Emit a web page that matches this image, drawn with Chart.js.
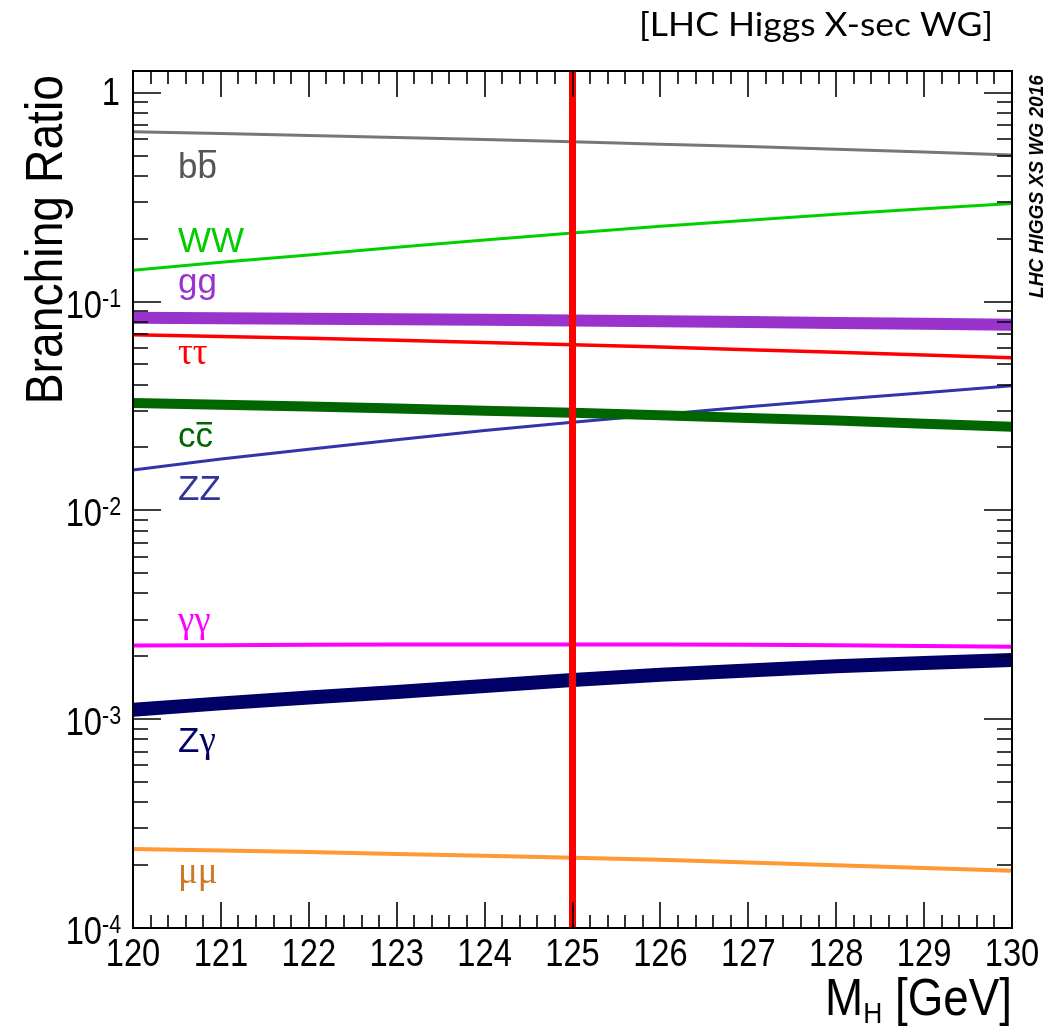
<!DOCTYPE html>
<html>
<head>
<meta charset="utf-8">
<script src="https://cdn.jsdelivr.net/npm/chart.js@4.4.0/dist/chart.umd.min.js"></script>
<style>
  html, body { margin: 0; padding: 0; background: #fff; }
  #br { display: block; }
</style>
</head>
<body>
<canvas id="br" width="1056" height="1026"></canvas>
<script>
// Higgs mass points (GeV)
const masses = [120, 121, 122, 123, 124, 125, 126, 127, 128, 129, 130];

// branching ratios
const bbValues    = [0.650, 0.637, 0.624, 0.610, 0.596, 0.582, 0.567, 0.552, 0.536, 0.520, 0.503];
const wwValues    = [0.141, 0.154, 0.167, 0.182, 0.197, 0.213, 0.229, 0.245, 0.262, 0.278, 0.295];
const ggValues    = [0.0836, 0.0832, 0.0828, 0.0823, 0.0817, 0.0811, 0.0804, 0.0797, 0.0790, 0.0782, 0.0774];
const tautauValues = [0.0693, 0.0680, 0.0667, 0.0653, 0.0637, 0.0621, 0.0605, 0.0588, 0.0571, 0.0554, 0.0538];
const ccValues    = [0.0327, 0.0320, 0.0314, 0.0307, 0.0300, 0.0293, 0.0285, 0.0277, 0.0269, 0.0260, 0.0251];
const zzValues    = [0.0156, 0.0176, 0.0196, 0.0218, 0.0241, 0.0264, 0.0288, 0.0313, 0.0339, 0.0366, 0.0395];
const gamgamValues = [0.00225, 0.00226, 0.00227, 0.00228, 0.00228, 0.00228, 0.00228, 0.00227, 0.00226, 0.00224, 0.00222];
const zgamValues  = [0.00111, 0.00119, 0.00127, 0.00135, 0.00144, 0.00154, 0.00163, 0.00171, 0.00179, 0.00186, 0.00192];
const mumuValues  = [0.000239, 0.000235, 0.000231, 0.000226, 0.000222, 0.000217, 0.000212, 0.000206, 0.000200, 0.000194, 0.000188];

const refMass = 125;
const xTickLabels = ['120', '121', '122', '123', '124', '125', '126', '127', '128', '129', '130'];
const yTickValues = [1, 0.1, 0.01, 0.001, 0.0001];
const yTickLabels = [['1', ''], ['10', '-1'], ['10', '-2'], ['10', '-3'], ['10', '-4']];

const channels = [
  { name: 'bb',     values: bbValues,     color: '#777777', width: 3 },
  { name: 'WW',     values: wwValues,     color: '#00d000', width: 3 },
  { name: 'gg',     values: ggValues,     color: '#9933cc', width: 12 },
  { name: 'tautau', values: tautauValues, color: '#ff0000', width: 3.5 },
  { name: 'cc',     values: ccValues,     color: '#006600', width: 10 },
  { name: 'ZZ',     values: zzValues,     color: '#3333aa', width: 3 },
  { name: 'gamgam', values: gamgamValues, color: '#ff00ff', width: 4 },
  { name: 'Zgam',   values: zgamValues,   color: '#000066', width: 14 },
  { name: 'mumu',   values: mumuValues,   color: '#ff9933', width: 4 }
];

const SANS = '"Liberation Sans", Arial, sans-serif';
const SERIF = '"Liberation Serif", "DejaVu Serif", serif';

// text helper: squash horizontally (ROOT fonts look narrow here)
function txt(ctx, s, x, y, font, color, align, squash) {
  ctx.save();
  ctx.translate(x, y);
  ctx.scale(squash || 1, 1);
  ctx.font = font;
  ctx.fillStyle = color;
  ctx.textAlign = align || 'left';
  ctx.textBaseline = 'alphabetic';
  ctx.fillText(s, 0, 0);
  ctx.restore();
}
function width(ctx, s, font, squash) {
  ctx.font = font;
  return ctx.measureText(s).width * (squash || 1);
}

const frame = {
  id: 'frame',
  beforeDraw(chart) {
    const ctx = chart.ctx;
    ctx.save();
    ctx.fillStyle = '#fff';
    ctx.fillRect(0, 0, chart.width, chart.height);
    ctx.restore();
  },
  afterDatasetsDraw(chart) {
    const { ctx, chartArea: a, scales: { x, y } } = chart;
    ctx.save();
    ctx.strokeStyle = '#000';
    ctx.lineWidth = 2;
    ctx.strokeRect(a.left, a.top, a.right - a.left, a.bottom - a.top);

    ctx.lineWidth = 1.6;
    ctx.beginPath();
    // x ticks, bottom and top
    for (let i = 0; i <= 50; i++) {
      const v = 120 + i * 0.2;
      const px = Math.round(x.getPixelForValue(v));
      const len = i % 5 === 0 ? 26 : 13;
      ctx.moveTo(px, a.bottom); ctx.lineTo(px, a.bottom - len);
      ctx.moveTo(px, a.top); ctx.lineTo(px, a.top + len);
    }
    // y ticks, left and right
    for (let e = -4; e <= 0; e++) {
      for (let m = 1; m <= 9; m++) {
        const v = m * Math.pow(10, e);
        if (v > y.max) break;
        const py = Math.round(y.getPixelForValue(v));
        const len = m === 1 ? 28 : 15;
        ctx.moveTo(a.left, py); ctx.lineTo(a.left + len, py);
        ctx.moveTo(a.right, py); ctx.lineTo(a.right - len, py);
      }
    }
    ctx.stroke();

    // x tick labels
    const tickFont = '38px ' + SANS;
    masses.forEach((m, i) => {
      txt(ctx, xTickLabels[i], x.getPixelForValue(m), a.bottom + 38, tickFont, '#000', 'center', 0.86);
    });

    // y tick labels with exponents
    const supFont = '25px ' + SANS;
    yTickValues.forEach((v, i) => {
      const py = y.getPixelForValue(v);
      const [base, exp] = yTickLabels[i];
      if (!exp) {
        txt(ctx, base, 120, py + 12, tickFont, '#000', 'right', 0.86);
      } else {
        txt(ctx, base, 102, py + 16, tickFont, '#000', 'right', 0.86);
        txt(ctx, exp, 102, py + 5, supFont, '#000', 'left', 0.86);
      }
    });

    // axis titles
    ctx.save();
    ctx.translate(62, 75);
    ctx.rotate(-Math.PI / 2);
    txt(ctx, 'Branching Ratio', 0, 0, '52px ' + SANS, '#000', 'right', 0.89);
    ctx.restore();

    const bigFont = '52px ' + SANS, subFont = '30px ' + SANS;
    const wRest = width(ctx, ' [GeV]', bigFont, 0.88);
    const wH = width(ctx, 'H', subFont, 0.88);
    const wM = width(ctx, 'M', bigFont, 0.88);
    let xs = 1012 - wRest - wH - wM;
    txt(ctx, 'M', xs, 1015, bigFont, '#000', 'left', 0.88);
    txt(ctx, 'H', xs + wM, 1023, subFont, '#000', 'left', 0.88);
    txt(ctx, ' [GeV]', xs + wM + wH, 1015, bigFont, '#000', 'left', 0.88);

    // top-right credit
    const credFont = '33px Lato, "Open Sans", sans-serif';
    const cw = width(ctx, '[LHC Higgs X-sec WG]', credFont, 1);
    txt(ctx, '[LHC Higgs X-sec WG]', 639, 36, credFont, '#000', 'left', 354 / cw);

    // vertical stamp
    const stampFont = 'italic bold 21px ' + SANS;
    const sw = width(ctx, 'LHC HIGGS XS WG 2016', stampFont, 1);
    ctx.save();
    ctx.translate(1043, 298);
    ctx.rotate(-Math.PI / 2);
    txt(ctx, 'LHC HIGGS XS WG 2016', 0, 0, stampFont, '#000', 'left', 223 / sw);
    ctx.restore();

    // curve labels
    const lx = 178;
    const lab = '35px ' + SANS, gr = '37px ' + SERIF;
    const bw = width(ctx, 'b', lab);
    txt(ctx, 'bb', lx, 178, lab, '#555555');
    ctx.fillStyle = '#555555';
    ctx.fillRect(lx + bw + 1, 150, bw - 2, 2.5);
    txt(ctx, 'WW', lx, 252, lab, '#00cc00');
    txt(ctx, 'gg', lx, 293, lab, '#9933cc');
    txt(ctx, 'ττ', lx, 364, gr, '#ff0000');
    const cw2 = width(ctx, 'c', lab);
    txt(ctx, 'cc', lx, 447, lab, '#006600');
    ctx.fillStyle = '#006600';
    ctx.fillRect(lx + cw2 + 1, 422, cw2 - 2, 2.5);
    txt(ctx, 'ZZ', lx, 500, lab, '#333399');
    txt(ctx, 'γγ', lx, 632, gr, '#ff00ff');
    const zw = width(ctx, 'Z', lab);
    txt(ctx, 'Z', lx, 752, lab, '#000066');
    txt(ctx, 'γ', lx + zw, 752, gr, '#000066');
    txt(ctx, 'μμ', lx, 883, gr, '#cc7a29');

    ctx.restore();
  }
};

const datasets = channels.map((c, i) => ({
  label: c.name,
  data: masses.map((m, j) => ({ x: m, y: c.values[j] })),
  borderColor: c.color,
  borderWidth: c.width,
  borderCapStyle: 'butt',
  pointRadius: 0,
  tension: 0,
  fill: false,
  order: 2 + i
}));

datasets.push({
  label: 'mH = 125 GeV',
  data: [{ x: refMass, y: 1e-4 }, { x: refMass, y: 1.27 }],
  borderColor: '#ff0000',
  borderWidth: 7,
  borderCapStyle: 'butt',
  pointRadius: 0,
  fill: false,
  order: 0
});

new Chart(document.getElementById('br'), {
  type: 'line',
  data: { datasets },
  options: {
    responsive: false,
    animation: false,
    devicePixelRatio: 1,
    layout: { padding: { left: 133, right: 44, top: 71, bottom: 98 } },
    scales: {
      x: { type: 'linear', min: 120, max: 130, display: false },
      y: { type: 'logarithmic', min: 1e-4, max: 1.27, display: false }
    },
    plugins: { legend: { display: false }, tooltip: { enabled: false } }
  },
  plugins: [frame]
});
</script>
</body>
</html>
